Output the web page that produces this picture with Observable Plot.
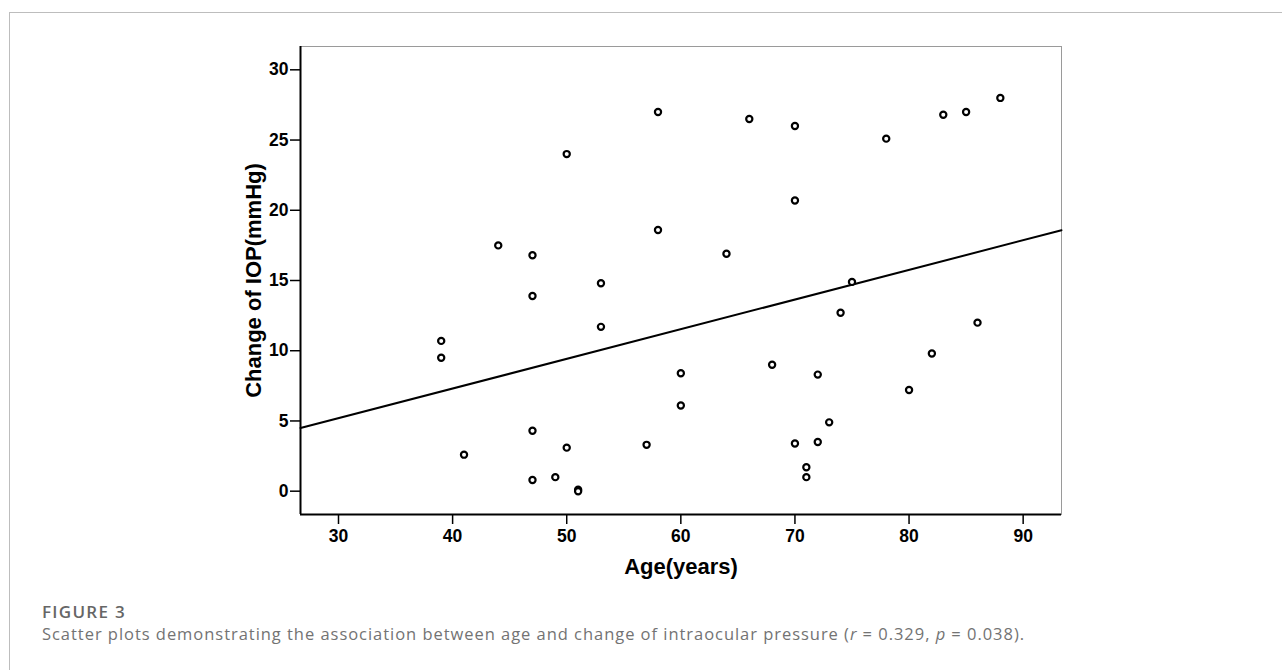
<!DOCTYPE html>
<html>
<head>
<meta charset="utf-8">
<script src="https://cdn.jsdelivr.net/npm/d3@7"></script>
<script src="https://cdn.jsdelivr.net/npm/@observablehq/plot@0.6"></script>
<style>
  html, body { margin: 0; padding: 0; background: #fff; overflow: hidden; }
  #wrap { position: relative; width: 1282px; height: 670px; }
  #border { position: absolute; left: 9px; top: 12px; width: 1400px; height: 800px; border: 1px solid #bdbdbd; }
  #chart { position: absolute; left: 0; top: 0; }
  #chart svg text { font-weight: bold; }
  .fig { position: absolute; left: 42px; font-family: "Open Sans", sans-serif; white-space: nowrap; }
  #figlabel { top: 604px; font-size: 17px; line-height: 16px; font-weight: 600; color: #666; }
  #figcap { top: 626px; font-size: 16.5px; line-height: 16px; color: #737373; }
</style>
</head>
<body>
<div id="wrap">
  <div id="border"></div>
  <div id="chart"></div>
  <div class="fig" id="figlabel">FIGURE 3</div>
  <div class="fig" id="figcap">Scatter plots demonstrating the association between age and change of intraocular pressure (<i>r</i> = 0.329, <i>p</i> = 0.038).</div>
</div>
<script>
// Data
const ages = [39, 39, 41, 44, 47, 47, 47, 47, 49, 50, 50, 51, 51, 53, 53, 57, 58, 58, 60, 60,
              64, 66, 68, 70, 70, 70, 71, 71, 72, 72, 73, 74, 75, 78, 80, 82, 83, 85, 86, 88];
const iopChange = [10.7, 9.5, 2.6, 17.5, 16.8, 13.9, 4.3, 0.8, 1.0, 24.0, 3.1, 0.1, 0.0, 14.8, 11.7, 3.3, 27.0, 18.6, 8.4, 6.1,
                   16.9, 26.5, 9.0, 26.0, 20.7, 3.4, 1.7, 1.0, 8.3, 3.5, 4.9, 12.7, 14.9, 25.1, 7.2, 9.8, 26.8, 27.0, 12.0, 28.0];
const xTicks = [30, 40, 50, 60, 70, 80, 90];
const yTicks = [0, 5, 10, 15, 20, 25, 30];
const fitIntercept = -1.14;
const fitSlope = 0.2112;
const xDomain = [26.67, 93.36];
const yDomain = [-1.66, 31.66];

const points = ages.map((a, i) => ({age: a, iop: iopChange[i]}));
const fitLine = xDomain.map(x => ({age: x, iop: fitIntercept + fitSlope * x}));

const font = "'Liberation Sans', Arial, sans-serif";

const plot = Plot.plot({
  width: 1282,
  height: 590,
  marginLeft: 300,
  marginRight: 221,
  marginTop: 46,
  marginBottom: 76,
  style: { fontFamily: font, color: "#000", background: "transparent", overflow: "visible" },
  x: { domain: xDomain },
  y: { domain: yDomain },
  marks: [
    Plot.frame({ stroke: "#9a9a9a", strokeWidth: 1 }),
    Plot.ruleX([xDomain[0]], { stroke: "#000", strokeWidth: 2 }),
    Plot.ruleY([yDomain[0]], { stroke: "#000", strokeWidth: 2 }),
    Plot.axisX({ ticks: xTicks, tickSize: 10, tickPadding: 5, strokeWidth: 1.5, label: null }),
    Plot.axisY({ ticks: yTicks, tickSize: 10, tickPadding: 2, strokeWidth: 1.5, label: null }),
    Plot.line(fitLine, { x: "age", y: "iop", stroke: "#000", strokeWidth: 2 }),
    Plot.dot(points, { x: "age", y: "iop", r: 3.1, stroke: "#000", strokeWidth: 2.2, fill: "#fff" }),
    Plot.text(["Age(years)"], { frameAnchor: "bottom", dy: 59, lineAnchor: "bottom", textAnchor: "middle", fontSize: 22, text: d => d }),
    Plot.text(["Change of IOP(mmHg)"], { frameAnchor: "left", dx: -40, rotate: -90, lineAnchor: "bottom", textAnchor: "middle", fontSize: 22, text: d => d })
  ]
});
document.getElementById("chart").appendChild(plot);

// enlarge numeric tick labels
d3.select(plot).selectAll("text")
  .filter(function () { return /^\d+$/.test(this.textContent.trim()); })
  .style("font-size", "17.5px");

// stretch caption lines to the reference text widths
function fitWidth(id, target) {
  const el = document.getElementById(id);
  const n = el.textContent.length;
  const w = el.getBoundingClientRect().width;
  el.style.letterSpacing = ((target - w) / n) + "px";
}
fitWidth("figlabel", 84);
fitWidth("figcap", 983);
</script>
</body>
</html>
